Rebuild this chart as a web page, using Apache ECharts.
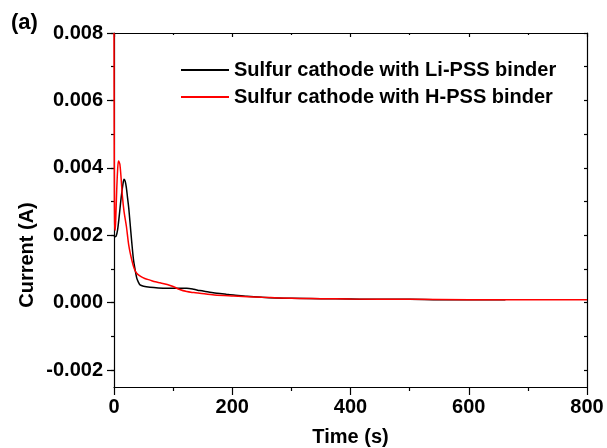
<!DOCTYPE html>
<html>
<head>
<meta charset="utf-8">
<script src="https://cdn.jsdelivr.net/npm/echarts@6/dist/echarts.min.js"></script>
<style>
html,body{margin:0;padding:0;background:#fff;}
#chart{width:607px;height:448px;}
</style>
</head>
<body>
<div id="chart"></div>
<script>
var seriesNames = ['Sulfur cathode with Li-PSS binder', 'Sulfur cathode with H-PSS binder'];
var xTicks = [0, 200, 400, 600, 800];
var yTickLabels = [-0.002, 0, 0.002, 0.004, 0.006, 0.008];
var yMinorTicks = [-0.002, -0.001, 0, 0.001, 0.002, 0.003, 0.004, 0.005, 0.006, 0.007, 0.008];

var liTime = [0, 1, 2, 3.5, 6, 9, 12, 15, 17, 19, 21, 23, 25, 27, 30, 33, 36, 38.5, 41, 44, 50, 61, 75, 89, 105, 123, 135, 145, 160, 174, 190, 202, 225, 250, 275, 300, 350, 400, 450, 500, 550, 600, 662];
var liCurrent = [0.00198, 0.00197, 0.00196, 0.00197, 0.00215, 0.0026, 0.0031, 0.0035, 0.00366, 0.0036, 0.0034, 0.0031, 0.0028, 0.0024, 0.0018, 0.00127, 0.00095, 0.00073, 0.00062, 0.00053, 0.00049, 0.00046, 0.00044, 0.00043, 0.00043, 0.00043, 0.0004, 0.00036, 0.00032, 0.00028, 0.00025, 0.00023, 0.00019, 0.00016, 0.00014, 0.00013, 0.00012, 0.00011, 0.0001, 0.0001, 0.00009, 0.00009, 0.00009];

var hTime = [0, 0.3, 0.7, 1.2, 2, 3, 4.5, 6, 7.5, 8.5, 10, 12, 14, 17, 21, 25, 30, 34, 38, 45, 52, 61, 70, 78, 90, 100, 110, 123, 135, 145, 170, 202, 250, 300, 350, 400, 500, 600, 700, 800];
var hCurrent = [0.008, 0.0052, 0.0031, 0.0023, 0.00215, 0.0025, 0.0033, 0.0039, 0.0042, 0.00418, 0.0041, 0.0037, 0.0032, 0.0027, 0.00226, 0.0017, 0.00127, 0.00102, 0.00088, 0.00078, 0.00072, 0.00067, 0.00062, 0.00059, 0.00054, 0.00048, 0.0004, 0.00033, 0.0003, 0.00028, 0.00023, 0.0002, 0.00016, 0.00013, 0.00012, 0.00011, 0.0001, 0.00009, 0.00009, 0.00009];

function zip(a, b) { return a.map(function (v, i) { return [v, b[i]]; }); }

var FONT = '"Liberation Sans", Arial, sans-serif';
var chart = echarts.init(document.getElementById('chart'), null, {renderer: 'canvas'});

chart.setOption({
  animation: false,
  backgroundColor: '#fff',
  grid: {left: 114, right: 20, top: 33, bottom: 61, containLabel: false, outerBoundsMode: 'none'},
  legend: {
    orient: 'vertical',
    left: 175,
    top: 55,
    itemWidth: 48,
    itemHeight: 14,
    itemGap: 7,
    itemStyle: {opacity: 0},
    textStyle: {fontFamily: FONT, fontWeight: 'bold', fontSize: 20, color: '#000', lineHeight: 20},
    data: seriesNames
  },
  graphic: [
    {type: 'text', left: 11, top: 12, style: {text: '(a)', font: 'bold 22px ' + FONT, fill: '#000'}},
    {type: 'text', x: 27, y: 255, rotation: Math.PI / 2,
      style: {text: 'Current (A)', font: 'bold 20px ' + FONT, fill: '#000', align: 'center', verticalAlign: 'middle'}}
  ],
  xAxis: [
    {
      type: 'value', position: 'bottom', min: 0, max: 800, interval: 200,
      name: 'Time (s)', nameLocation: 'middle', nameGap: 40,
      nameTextStyle: {fontFamily: FONT, fontWeight: 'bold', fontSize: 20, color: '#000'},
      axisLine: {show: true, onZero: false, lineStyle: {color: '#000', width: 1.2}},
      axisTick: {show: true, inside: false, length: 8, lineStyle: {color: '#000', width: 1.2}},
      minorTick: {show: true, splitNumber: 2, length: 4, lineStyle: {color: '#000', width: 1.2}},
      axisLabel: {margin: 10, fontFamily: FONT, fontWeight: 'bold', fontSize: 20, color: '#000',
        customValues: xTicks},
      splitLine: {show: false}
    },
    {
      type: 'value', position: 'top', min: 0, max: 800, interval: 200,
      axisLine: {show: true, onZero: false, lineStyle: {color: '#000', width: 1.2}},
      axisTick: {show: true, inside: true, length: 4, lineStyle: {color: '#000', width: 1.2}},
      minorTick: {show: true, splitNumber: 2, length: 2, lineStyle: {color: '#000', width: 1.2}},
      axisLabel: {show: false},
      splitLine: {show: false}
    }
  ],
  yAxis: [
    {
      type: 'value', position: 'left', min: -0.0025, max: 0.008,
      axisLine: {show: true, onZero: false, lineStyle: {color: '#000', width: 1.2}},
      axisTick: {show: true, inside: false, length: 7, customValues: yTickLabels, lineStyle: {color: '#000', width: 1.2}},
      axisLabel: {margin: 11, fontFamily: FONT, fontWeight: 'bold', fontSize: 20, color: '#000',
        customValues: yTickLabels,
        formatter: function (v) { return (Math.abs(v) < 1e-12 ? 0 : v).toFixed(3); }},
      splitLine: {show: false}
    },
    {
      type: 'value', position: 'left', min: -0.0025, max: 0.008,
      axisLine: {show: false},
      axisTick: {show: true, inside: false, length: 3, customValues: yMinorTicks, lineStyle: {color: '#000', width: 1.2}},
      axisLabel: {show: false},
      splitLine: {show: false}
    },
    {
      type: 'value', position: 'right', min: -0.0025, max: 0.008,
      axisLine: {show: true, onZero: false, lineStyle: {color: '#000', width: 1.2}},
      axisTick: {show: true, inside: true, length: 3, customValues: yMinorTicks, lineStyle: {color: '#000', width: 1.2}},
      axisLabel: {show: false},
      splitLine: {show: false}
    }
  ],
  series: [
    {
      name: seriesNames[0], type: 'line', xAxisIndex: 0, yAxisIndex: 0,
      data: zip(liTime, liCurrent), showSymbol: false, symbol: 'none', smooth: 0.3,
      lineStyle: {color: '#000', width: 1.5}, itemStyle: {color: '#000'}
    },
    {
      name: seriesNames[1], type: 'line', xAxisIndex: 0, yAxisIndex: 0,
      data: zip(hTime, hCurrent), showSymbol: false, symbol: 'none', smooth: 0.3,
      lineStyle: {color: '#ff0000', width: 1.5}, itemStyle: {color: '#ff0000'}
    }
  ]
});
</script>
</body>
</html>
